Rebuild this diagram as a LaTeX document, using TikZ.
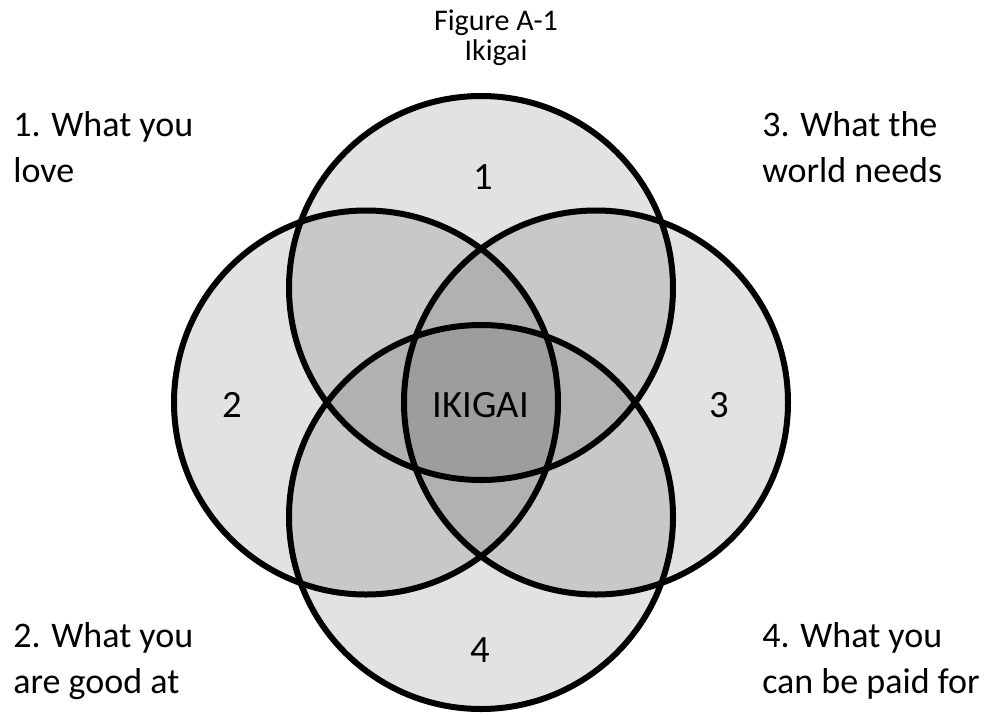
\documentclass[tikz,border=0pt]{standalone}
\usepackage{fontspec}
\setmainfont{Carlito}
\usepackage{tikz}
\begin{document}
\begin{tikzpicture}[x=0.75pt,y=-0.75pt,
  ring/.style={draw=black,line width=4.5pt},
  shade/.style={fill=black,fill opacity=0.115},
  numlabel/.style={font=\fontsize{29}{32}\selectfont,inner sep=0pt},
  cornerlabel/.style={font=\fontsize{27}{34.5}\selectfont,align=left,anchor=base west,inner sep=0pt}]
\useasboundingbox (0,0) rectangle (989,715);
% four overlapping circles
\foreach \cx/\cy in {481/288,366/402.5,596/402.5,481/517}{
  \fill[shade] (\cx,\cy) circle[radius=192];}
\foreach \cx/\cy in {481/288,366/402.5,596/402.5,481/517}{
  \draw[ring] (\cx,\cy) circle[radius=192];}
\node[numlabel] (one) at (483,177) {1};
\node[numlabel] (two) at (232,405) {2};
\node[numlabel] (three) at (719,405) {3};
\node[numlabel] (four) at (480,650) {4};
\node[numlabel] (ikigai) at (481,405) {IKIGAI};
\node[font=\fontsize{22.5}{22.5}\selectfont,align=center,anchor=base,inner sep=0pt] (title) at (496,60) {Figure A-1\\Ikigai};
\node[cornerlabel] (love) at (13,182) {1. What you\\love};
\node[cornerlabel] (needs) at (762,182) {3. What the\\world needs};
\node[cornerlabel] (good) at (13,693) {2. What you\\are good at};
\node[cornerlabel] (paid) at (762,693) {4. What you\\can be paid for};
\end{tikzpicture}
\end{document}
